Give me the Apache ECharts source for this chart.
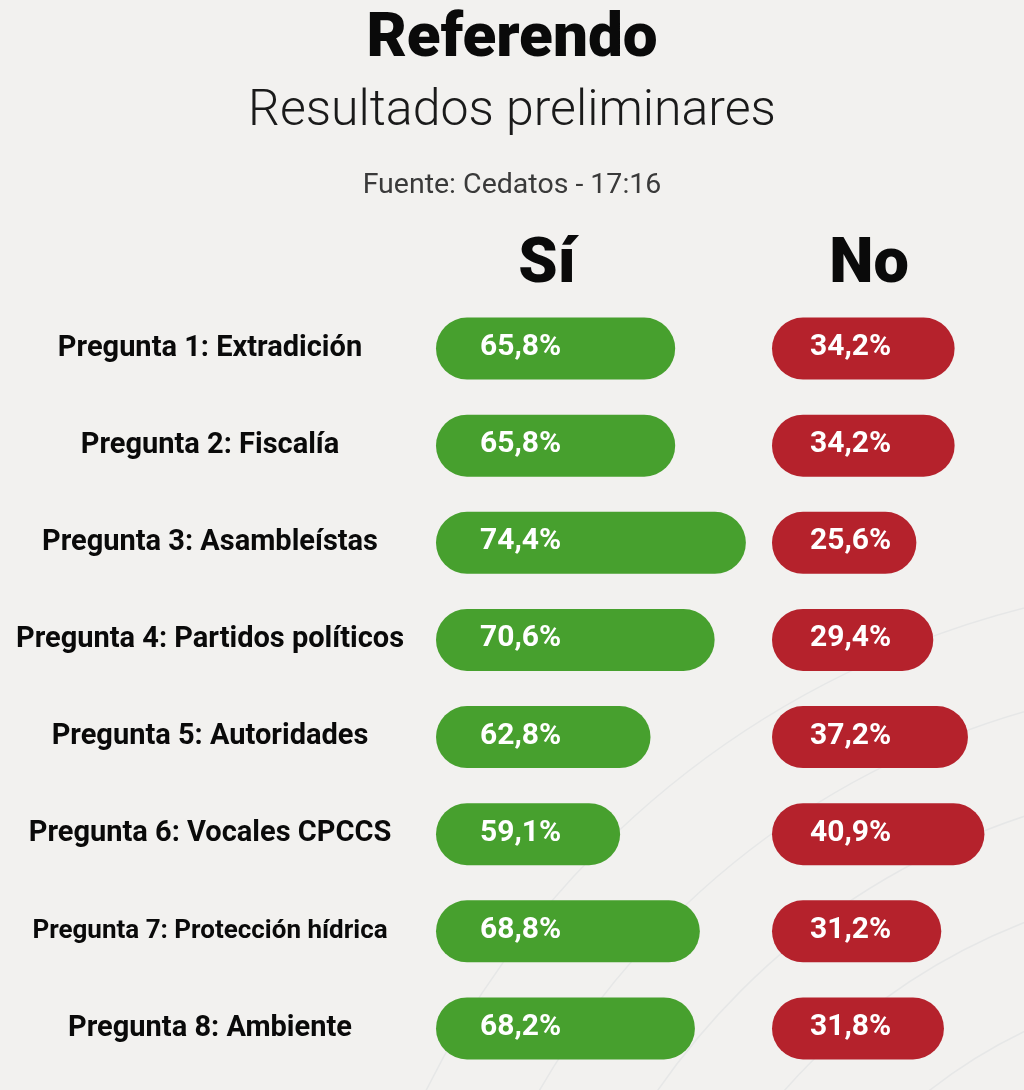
<!DOCTYPE html>
<html>
<head>
<meta charset="utf-8">
<script src="https://cdn.jsdelivr.net/npm/echarts@6/dist/echarts.min.js"></script>
<style>
html,body{margin:0;padding:0;background:#f2f1ef;}
#chart{width:1024px;height:1090px;}
</style>
</head>
<body>
<div id="chart"></div>
<script>
const questions = [
  'Pregunta 1: Extradición',
  'Pregunta 2: Fiscalía',
  'Pregunta 3: Asambleístas',
  'Pregunta 4: Partidos políticos',
  'Pregunta 5: Autoridades',
  'Pregunta 6: Vocales CPCCS',
  'Pregunta 7: Protección hídrica',
  'Pregunta 8: Ambiente'
];
const siValues = [65.8, 65.8, 74.4, 70.6, 62.8, 59.1, 68.8, 68.2];
const noValues = [34.2, 34.2, 25.6, 29.4, 37.2, 40.9, 31.2, 31.8];
const titleText = 'Referendo';
const subtitleText = 'Resultados preliminares';
const sourceText = 'Fuente: Cedatos - 17:16';
const siHeader = 'Sí';
const noHeader = 'No';

const SI_MIN = 36.7, SI_MAX = 76.85;
const NO_MIN = -6.85, NO_MAX = 47.1;
const BAR_H = 62;

function fmt(v) { return v.toFixed(1).replace('.', ',') + '%'; }

function makeRender(color, minVal, textOffset) {
  return function (params, api) {
    const v = api.value(0);
    const c = api.value(1);
    const s = api.coord([minVal, c]);
    const e = api.coord([v, c]);
    return {
      type: 'group',
      children: [
        { type: 'rect',
          shape: { x: s[0], y: s[1] - BAR_H / 2, width: e[0] - s[0], height: BAR_H, r: BAR_H / 2 },
          style: { fill: color } },
        { type: 'text', x: s[0] + textOffset, y: s[1] - 1,
          style: { text: fmt(v), fill: '#ffffff', font: 'bold 30px Roboto', align: 'left', verticalAlign: 'middle' } }
      ]
    };
  };
}

const swooshes = [];
[520, 620, 720, 820, 920].forEach(function (r) {
  swooshes.push({
    type: 'arc', silent: true, z: -10,
    shape: { cx: 1250, cy: 1500, r: r, startAngle: Math.PI * 1.0, endAngle: Math.PI * 1.5 },
    style: { stroke: '#e6e7e7', lineWidth: 1.5, fill: null }
  });
});

const chart = echarts.init(document.getElementById('chart'), null, { renderer: 'canvas' });
chart.setOption({
  backgroundColor: '#f2f1ef',
  animation: false,
  graphic: swooshes,
  title: [
    { text: titleText, left: 'center', top: 4,
      textStyle: { fontFamily: 'Roboto', fontWeight: 900, fontSize: 62, color: '#0a0a0a' } },
    { text: subtitleText, left: 'center', top: 82,
      textStyle: { fontFamily: 'Roboto', fontWeight: 300, fontSize: 50, color: '#1a1a1a' } },
    { text: sourceText, left: 'center', top: 166,
      textStyle: { fontFamily: 'Roboto', fontWeight: 'normal', fontSize: 28.5, color: '#3a3a3a' } },
    { text: siHeader, left: 542, textAlign: 'center', top: 230,
      textStyle: { fontFamily: 'Roboto', fontWeight: 900, fontSize: 63, color: '#0a0a0a' } },
    { text: noHeader, left: 864, textAlign: 'center', top: 230,
      textStyle: { fontFamily: 'Roboto', fontWeight: 900, fontSize: 63, color: '#0a0a0a' } }
  ],
  grid: [
    { left: 436, width: 330, top: 300, height: 777 },
    { left: 772, width: 240, top: 300, height: 777 }
  ],
  xAxis: [
    { type: 'value', gridIndex: 0, min: SI_MIN, max: SI_MAX, show: false },
    { type: 'value', gridIndex: 1, min: NO_MIN, max: NO_MAX, show: false }
  ],
  yAxis: [
    { type: 'category', gridIndex: 0, data: questions, inverse: true,
      axisLine: { show: false }, axisTick: { show: false }, splitLine: { show: false },
      axisLabel: { align: 'center', margin: 226, fontFamily: 'Roboto', fontWeight: 'bold',
                   fontSize: 29, color: '#0a0a0a',
                   formatter: function (val, idx) { return idx === 6 ? '{s|' + val + '}' : val; },
                   rich: { s: { fontFamily: 'Roboto', fontWeight: 'bold', fontSize: 26, color: '#0a0a0a' } } } },
    { type: 'category', gridIndex: 1, data: questions, inverse: true, show: false }
  ],
  series: [
    { type: 'custom', name: siHeader, xAxisIndex: 0, yAxisIndex: 0,
      encode: { x: 0, y: 1 },
      data: siValues.map((v, i) => [v, i]),
      renderItem: makeRender('#47a02e', SI_MIN, 44) },
    { type: 'custom', name: noHeader, xAxisIndex: 1, yAxisIndex: 1,
      encode: { x: 0, y: 1 },
      data: noValues.map((v, i) => [v, i]),
      renderItem: makeRender('#b5222c', NO_MIN, 38) }
  ]
});
</script>
</body>
</html>
